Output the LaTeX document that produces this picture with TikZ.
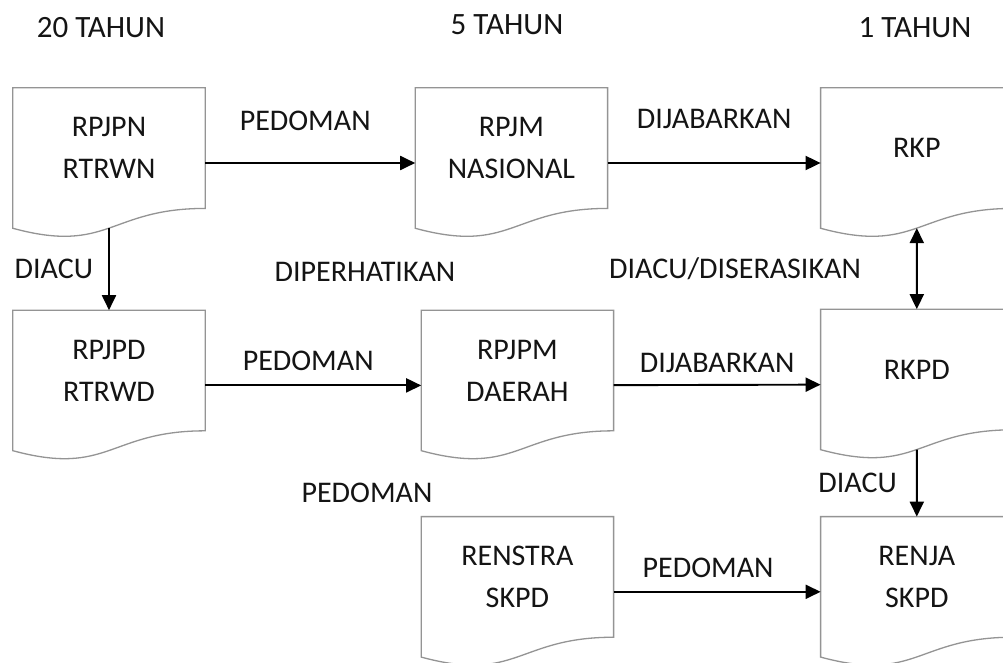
\documentclass[tikz,border=0pt]{standalone}
\usepackage{fontspec}
\setmainfont{Carlito}
\usetikzlibrary{arrows.meta,positioning,calc}
\tikzset{doc/.style={minimum width=192pt,minimum height=150pt,inner sep=0pt,label={[align=center,yshift=15pt,text=black!92]center:#1}},docline/.style={draw=black!42,line width=1.3pt},arrow/.style={-{Triangle[length=15pt,width=14pt]},line width=1.9pt},lbl/.style={text=black!92,inner sep=3pt}}

\begin{document}
\begin{tikzpicture}[x=1pt,y=-1pt,font=\fontsize{30}{42}\selectfont]
\fill[white] (0,0) rectangle (1003,663); \useasboundingbox (0,0) rectangle (1003,663);
% tahun
\node[lbl,font=\fontsize{31}{36}\selectfont] (t20) at (101,28) {20 TAHUN};
\node[lbl,font=\fontsize{31}{36}\selectfont] (t5) at (507,25) {5 TAHUN};
\node[lbl,font=\fontsize{31}{36}\selectfont] (t1) at (915,28) {1 TAHUN};
% dokumen
\node[doc={RPJPN\\RTRWN}] (rpjpn) at (109,163) {};
\node[doc={RPJM\\NASIONAL},right=210pt of rpjpn] (rpjm) {};
\node[doc={RKP},right=213pt of rpjm] (rkp) {};
\node[doc={RPJPD\\RTRWD},below=72pt of rpjpn] (rpjpd) {};
\node[doc={RPJPM\\DAERAH},right=216pt of rpjpd] (rpjpm) {};
\node[doc={RKPD},below=71pt of rkp] (rkpd) {};
\node[doc={RENSTRA\\SKPD},below=56pt of rpjpm] (renstra) {};
\node[doc={RENJA\\SKPD},below=57pt of rkpd] (renja) {};
\foreach \n in {rpjpn,rpjm,rkp,rpjpd,rpjpm,rkpd,renstra,renja}{
 \draw[docline] (\n.north west) -- (\n.north east) -- ($(\n.north east)!0.802!(\n.south east)$) .. controls ($(\n.north)!0.802!(\n.south)$) and ($(\n.north)!1.1075!(\n.south)$) .. ($(\n.north west)!0.934!(\n.south west)$) -- cycle;
 \coordinate (\n-w) at ($(\n.north)!0.933!(\n.south)$);
}
\node[lbl] (diperhatikan) at (365,272) {DIPERHATIKAN};
\node[lbl] (pedoman) at (367,493) {PEDOMAN};
\draw[arrow] (rpjpn)--node[lbl,above=28pt,xshift=-5pt]{PEDOMAN}(rpjm);
\draw[arrow] (rpjm)--node[lbl,above=30pt]{DIJABARKAN}(rkp);
\draw[arrow] (rpjpd)--node[lbl,above=11pt,xshift=-5pt]{PEDOMAN}(rpjpm);
\draw[arrow] (rpjpm)--node[lbl,above=8pt]{DIJABARKAN}(rkpd);
\draw[arrow] (renstra)--node[lbl,above=10pt,xshift=-9pt]{PEDOMAN}(renja);
\draw[arrow] (rpjpn-w)--node[lbl,left=12pt]{DIACU}(rpjpd);
\draw[arrow,{Triangle[length=15pt,width=14pt]}-{Triangle[length=15pt,width=14pt]}] (rkp-w)--node[lbl,left=52pt]{DIACU/DISERASIKAN}(rkpd);
\draw[arrow] (rkpd-w)--node[lbl,left=16pt]{DIACU}(renja);
\end{tikzpicture}
\end{document}
